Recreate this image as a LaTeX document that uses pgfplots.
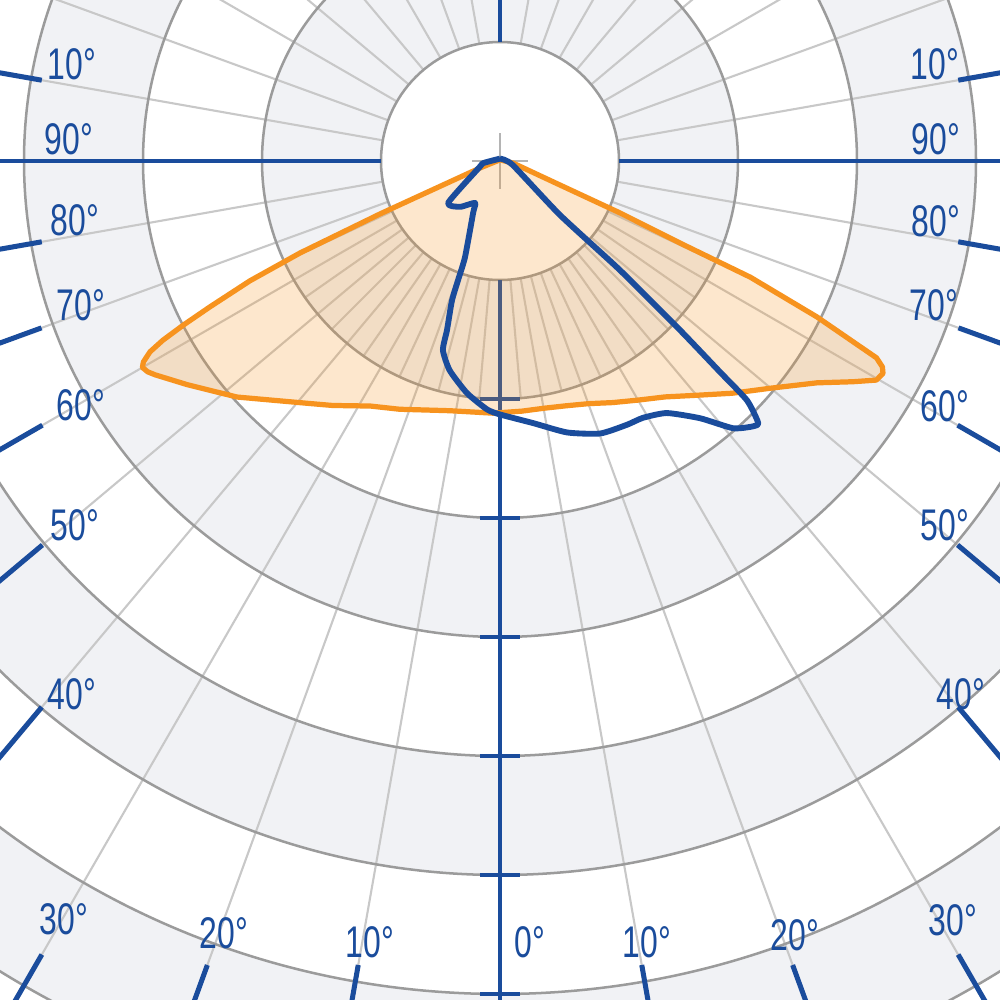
\documentclass[border=0pt]{standalone}
\usepackage{fontspec}
\setmainfont{Liberation Sans}
\usepackage{pgfplots}
\usepackage{pgfplotstable}
\pgfplotsset{compat=1.18}
\definecolor{axblue}{HTML}{1A4C9C}
\definecolor{ringgray}{HTML}{F1F2F5}
\definecolor{circgray}{HTML}{9B9B9B}
\definecolor{spokegray}{HTML}{C8C8C8}
\definecolor{orangeC}{HTML}{F7931E}
\definecolor{crossgray}{HTML}{B4B4B4}

% gamma (deg from nadir, + = right), intensity in ring units
\pgfplotstableread{
g r
-180 0.01
-70.7 0.18
-66.2 1.10
-65.3 1.85
-64.4 2.33
-63.3 2.73
-62.6 3.00
-62.0 3.21
-61.4 3.35
-60.6 3.44
-60.0 3.47
-59.1 3.45
-58.2 3.41
-54.4 3.23
-48.1 2.97
-39.1 2.62
-34.4 2.49
-27.9 2.33
-22.0 2.25
-11.3 2.14
-1.6 2.12
5 2.11
10 2.11
15 2.13
20 2.17
25 2.24
30 2.32
35 2.42
40 2.57
45 2.76
50 2.97
55 3.25
58 3.50
59.8 3.66
61.0 3.68
61.7 3.65
62.4 3.57
63.8 2.97
65.1 2.32
65.5 1.66
66.6 1.10
68.2 0.54
81 0.11
180 0.01
}\orangedata

\pgfplotstableread{
g r
-180 0.02
-83 0.14
-73.3 0.18
-51.1 0.56
-41.0 0.51
-30.8 0.41
-27.4 0.49
-20.0 0.86
-19.4 1.06
-19.0 1.24
-17.4 1.49
-16.8 1.66
-13.5 1.81
-8.1 1.97
-3.0 2.09
0 2.13
7.2 2.22
13.9 2.35
20.2 2.44
25.7 2.46
29.1 2.47
33.5 2.54
37.9 2.74
41.1 2.98
43.6 3.08
44.6 3.09
45.9 2.89
46.2 2.56
46.8 2.07
47.7 1.36
48.0 0.68
73 0.11
180 0.02
}\bluedata

\newcommand{\lab}[3]{\node[text=axblue,inner sep=0pt,font=\fontsize{10.6}{12}\selectfont] at (axis cs:#1,#2) {\scalebox{0.72}[1]{#3}};}
\newcommand{\tk}[2]{\draw[axblue,line width=1.2pt] ({#2*cos(#1)},{#2*sin(#1)}) -- ({(#2+2)*cos(#1)},{(#2+2)*sin(#1)});}

\begin{document}
\begin{tikzpicture}
\begin{axis}[name=ax, x=1cm, y=1cm, xmin=-4.2017, xmax=4.2017, ymin=-7.05, ymax=1.353, hide axis, clip=true]
% background rings
\fill[white] (-6,-9) rectangle (6,3);
\fill[ringgray] (0,0) circle[radius=8];
\fill[white] (0,0) circle[radius=7];
\fill[ringgray] (0,0) circle[radius=6];
\fill[white] (0,0) circle[radius=5];
\fill[ringgray] (0,0) circle[radius=4];
\fill[white] (0,0) circle[radius=3];
\fill[ringgray] (0,0) circle[radius=2];
\fill[white] (0,0) circle[radius=1];
% spokes
\pgfplotsinvokeforeach{0,10,...,350}{
  \draw[spokegray, line width=0.5pt] ({cos(#1)},{sin(#1)}) -- ({12*cos(#1)},{12*sin(#1)});
}
\pgfplotsinvokeforeach{-155,-145,...,-25}{
  \draw[spokegray, line width=0.5pt] ({cos(#1)},{sin(#1)}) -- ({2*cos(#1)},{2*sin(#1)});
}
% circles
\pgfplotsinvokeforeach{1,...,8}{
  \draw[circgray, line width=0.6pt] (0,0) circle[radius=#1];
}
% centre cross
\draw[crossgray, line width=0.4pt] (-0.235,0) -- (0.235,0);
\draw[crossgray, line width=0.4pt] (0,-0.235) -- (0,0.235);
% blue axes
\draw[axblue, line width=0.72pt] (1,0) -- (6,0);
\draw[axblue, line width=0.72pt] (-1,0) -- (-6,0);
\draw[axblue, line width=0.72pt] (0,1) -- (0,3);
\draw[axblue, line width=0.72pt] (0,-1) -- (0,-9);
\pgfplotsinvokeforeach{2,...,7}{
  \draw[axblue, line width=0.85pt] (-0.17,-#1) -- (0.17,-#1);
}
% angle ticks
\tk{-100}{6.86}\tk{-110}{7.19}\tk{-120}{7.70}\tk{-130}{5.99}\tk{-140}{5.02}
\tk{-150}{4.44}\tk{-160}{4.10}\tk{-170}{3.91}\tk{-190}{3.91}
\tk{-80}{6.86}\tk{-70}{7.19}\tk{-60}{7.70}\tk{-50}{5.99}\tk{-40}{5.02}
\tk{-30}{4.44}\tk{-20}{4.10}\tk{-10}{3.91}\tk{10}{3.91}
% labels
\lab{-3.597}{0.815}{10°}
\lab{-3.622}{0.185}{90°}
\lab{-3.571}{-0.496}{80°}
\lab{-3.521}{-1.21}{70°}
\lab{-3.521}{-2.05}{60°}
\lab{-3.571}{-3.059}{50°}
\lab{-3.597}{-4.479}{40°}
\lab{-3.664}{-6.370}{30°}
\lab{-2.319}{-6.487}{20°}
\lab{-1.092}{-6.563}{10°}
\lab{0.252}{-6.563}{0°}
\lab{1.235}{-6.563}{10°}
\lab{2.479}{-6.504}{20°}
\lab{3.807}{-6.378}{30°}
\lab{3.874}{-4.479}{40°}
\lab{3.739}{-3.059}{50°}
\lab{3.739}{-2.059}{60°}
\lab{3.647}{-1.21}{70°}
\lab{3.664}{-0.504}{80°}
\lab{3.664}{0.185}{90°}
\lab{3.655}{0.815}{10°}
% curves
\addplot[draw=orangeC, line width=1.25pt, fill=orangeC, fill opacity=0.22, line join=round]
  table[x expr={\thisrow{r}*sin(\thisrow{g})}, y expr={-\thisrow{r}*cos(\thisrow{g})}] {\orangedata};
\addplot[draw=axblue, line width=1.4pt, line join=round, smooth, tension=0.35]
  table[x expr={\thisrow{r}*sin(\thisrow{g})}, y expr={-\thisrow{r}*cos(\thisrow{g})}] {\bluedata};
\end{axis}
\pgfresetboundingbox
\useasboundingbox (ax.south west) rectangle (ax.north east);
\end{tikzpicture}
\end{document}
